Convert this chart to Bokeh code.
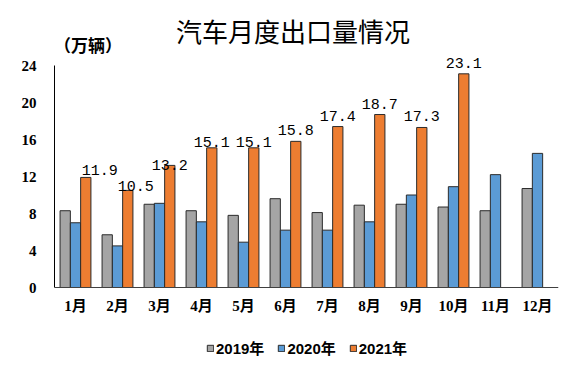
from bokeh.plotting import figure
from bokeh.models import ColumnDataSource, FactorRange, Range1d, FixedTicker, Label, Legend, LegendItem
from bokeh.transform import dodge
from bokeh.core.properties import value
from bokeh.embed import file_html
from bokeh.resources import INLINE

# ---- data ----
months = ["1月", "2月", "3月", "4月", "5月", "6月", "7月", "8月", "9月", "10月", "11月", "12月"]
y2019 = [8.3, 5.7, 9.0, 8.3, 7.8, 9.6, 8.1, 8.9, 9.0, 8.7, 8.3, 10.7]
y2020 = [7.0, 4.5, 9.1, 7.1, 4.9, 6.2, 6.2, 7.1, 10.0, 10.9, 12.2, 14.5]
y2021 = [11.9, 10.5, 13.2, 15.1, 15.1, 15.8, 17.4, 18.7, 17.3, 23.1]
y_ticks = [0, 4, 8, 12, 16, 20, 24]
series_names = ["2019年", "2020年", "2021年"]
title_text = "汽车月度出口量情况"
unit_text = "（万辆）"

# ---- styling / layout ----
label_dx = [14, 8, 0, 0, 0, 0, 0, 0, 0, 0]
label_gap = [7, 4, 0, 6, 6, 11, 11, 11, 11, 11]
colors = ["#A5A5A5", "#5B9BD5", "#ED7D31"]
edge = "#2b2b2b"
W, H = 572, 365
zero_px = 287            # zero line, pixels from top of figure
px_per_unit = 222 / 24
ymax = zero_px / px_per_unit
ymin = -(H - zero_px) / px_per_unit

p = figure(width=W, height=H, x_range=FactorRange(*months), y_range=Range1d(ymin, ymax),
           output_backend="svg", toolbar_location=None,
           min_border_left=54, min_border_right=14, min_border_top=0, min_border_bottom=0)
p.outline_line_color = None
p.xgrid.grid_line_color = None
p.ygrid.grid_line_color = None
p.background_fill_color = "white"

src = ColumnDataSource(dict(month=months, y2019=y2019, y2020=y2020))
n21 = len(y2021)
src21 = ColumnDataSource(dict(month=months[:n21], y2021=y2021,
                              label=[f"{v:.1f}" for v in y2021],
                              dx=label_dx, dy=[-g for g in label_gap]))

bw = 0.245
r1 = p.vbar(x=dodge("month", -bw, range=p.x_range), top="y2019", bottom=0, width=bw, source=src,
            fill_color=colors[0], line_color=edge, line_width=1)
r2 = p.vbar(x=dodge("month", 0, range=p.x_range), top="y2020", bottom=0, width=bw, source=src,
            fill_color=colors[1], line_color=edge, line_width=1)
r3 = p.vbar(x=dodge("month", bw, range=p.x_range), top="y2021", bottom=0, width=bw, source=src21,
            fill_color=colors[2], line_color=edge, line_width=1)

p.text(x=dodge("month", bw, range=p.x_range), y="y2021", text="label", source=src21,
       x_offset="dx", y_offset="dy", text_align="center", text_baseline="alphabetic",
       text_font=value("Liberation Mono"), text_font_size="15px", text_color="black")

# axes
p.yaxis.ticker = FixedTicker(ticks=y_ticks)
p.yaxis.bounds = (0, 24)
p.yaxis.axis_line_color = "black"
p.yaxis.major_tick_line_color = None
p.yaxis.minor_tick_line_color = None
p.yaxis.major_tick_out = 0
p.yaxis.major_tick_in = 0
p.yaxis.major_label_standoff = 18
p.yaxis.major_label_text_font = "'Liberation Serif', serif"
p.yaxis.major_label_text_font_style = "bold"
p.yaxis.major_label_text_font_size = "15px"
p.yaxis.major_label_text_color = "black"

p.xaxis.fixed_location = 0
p.xaxis.axis_line_color = "#404040"
p.xaxis.major_tick_line_color = None
p.xaxis.minor_tick_line_color = None
p.xaxis.major_tick_out = 0
p.xaxis.major_tick_in = 0
p.xaxis.major_label_standoff = 10
p.xaxis.major_label_text_font = "'Liberation Serif', 'Noto Sans CJK SC'"
p.xaxis.major_label_text_font_style = "bold"
p.xaxis.major_label_text_font_size = "15px"
p.xaxis.major_label_text_color = "black"

# title and unit
p.add_layout(Label(x=5.68, y=27.73, text=title_text, text_align="center", text_baseline="middle",
                   text_font="Noto Sans CJK SC", text_font_size="26px", text_color="black"))
p.add_layout(Label(x=0.80, y=26.32, text=unit_text, text_align="center", text_baseline="middle",
                   text_font="Noto Sans CJK SC", text_font_style="bold", text_font_size="17px",
                   text_color="black"))

legend = Legend(items=[LegendItem(label=series_names[0], renderers=[r1]),
                       LegendItem(label=series_names[1], renderers=[r2]),
                       LegendItem(label=series_names[2], renderers=[r3])],
                orientation="horizontal", location=(152, 7),
                glyph_width=8, glyph_height=8, label_standoff=2, spacing=13, padding=0,
                border_line_color=None, background_fill_alpha=0,
                label_text_font="'Liberation Sans', 'Noto Sans CJK SC'",
                label_text_font_style="bold", label_text_font_size="15px",
                label_text_color="black")
p.add_layout(legend)

open("out.html", "w").write(file_html(p, INLINE))
